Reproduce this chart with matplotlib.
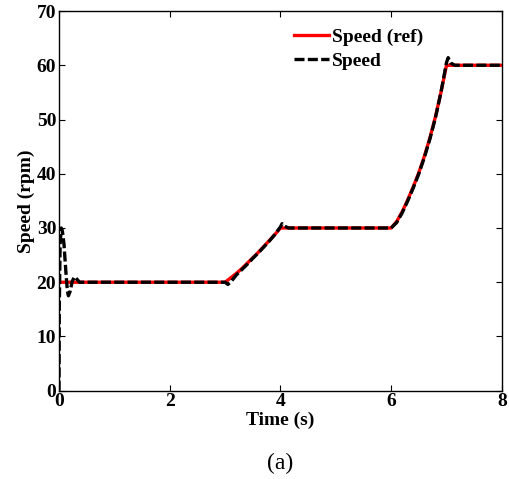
import matplotlib
matplotlib.use("Agg")
import matplotlib.pyplot as plt

plt.rcParams['font.family'] = ['Liberation Serif', 'DejaVu Serif']
plt.rcParams['font.weight'] = 'bold'

# Reference speed profile (time in s, speed in rpm)
t_ref = [0.0, 3.0, 3.1, 3.2, 3.3, 3.4, 3.5, 3.6, 3.7, 3.8, 3.9, 4.0,
         6.0, 6.1, 6.2, 6.3, 6.4, 6.5, 6.6, 6.7, 6.8, 6.9, 7.0, 8.0]
w_ref = [20.0, 20.0, 20.8, 21.6, 22.5, 23.5, 24.5, 25.5, 26.6, 27.7, 28.8, 30.0,
         30.0, 31.2, 33.0, 35.2, 37.6, 40.2, 43.2, 46.6, 50.5, 55.0, 60.0, 60.0]

# Measured speed response
t_meas = [0.0, 0.005, 0.02, 0.04, 0.06, 0.09, 0.12, 0.15, 0.17, 0.2, 0.24, 0.28, 0.32,
          0.37, 0.45, 3.0, 3.05, 3.1, 3.2, 3.3, 3.4, 3.5, 3.6, 3.7, 3.8, 3.9, 4.0,
          4.03, 4.08, 4.15, 6.0, 6.1, 6.2, 6.3, 6.4, 6.5, 6.6, 6.7, 6.8, 6.9, 7.0,
          7.03, 7.08, 7.15, 8.0]
w_meas = [0.0, 15.0, 27.0, 30.0, 29.5, 27.0, 22.5, 18.5, 17.5, 18.3, 20.2, 21.0, 20.6,
          20.0, 20.0, 20.0, 19.6, 20.0, 21.3, 22.3, 23.3, 24.4, 25.4, 26.5, 27.6,
          28.8, 30.2, 30.8, 30.3, 30.0, 30.0, 31.0, 32.8, 35.0, 37.4, 40.0, 43.0,
          46.4, 50.3, 55.0, 60.5, 61.4, 60.4, 60.0, 60.0]

fig = plt.figure(figsize=(5.10, 4.79), dpi=100)
ax = fig.add_axes([0.1157, 0.1843, 0.8683, 0.7927])

ax.plot(t_ref, w_ref, color='#ff0000', lw=2.4, label='Speed (ref)')
ax.plot(t_meas, w_meas, color='black', lw=2.4, ls=(0, (3, 1)), label='Speed')

ax.set_xlim(0, 8)
ax.set_ylim(0, 70)
ax.set_xticks([0, 2, 4, 6, 8])
ax.set_yticks(range(0, 71, 10))
ax.tick_params(direction='in', top=True, right=True, length=4, width=0.8,
               labelsize=14, pad=2)
for lab in ax.get_xticklabels() + ax.get_yticklabels():
    lab.set_fontweight('bold')
for s in ax.spines.values():
    s.set_linewidth(1.0)

ax.set_xlabel('Time (s)', fontsize=14, fontweight='bold', labelpad=1)
ax.set_ylabel('Speed (rpm)', fontsize=14, fontweight='bold', labelpad=1)

leg = ax.legend(loc='upper left', bbox_to_anchor=(0.5, 0.99), frameon=False,
                fontsize=14, handlelength=1.8, handletextpad=0.15,
                labelspacing=0.3, borderaxespad=0.3)
for txt in leg.get_texts():
    txt.set_fontweight('bold')

fig.text(0.55, 0.033, '(a)', ha='center', va='center', fontsize=17,
         fontweight='normal')

fig.savefig('out.png', dpi=100)
